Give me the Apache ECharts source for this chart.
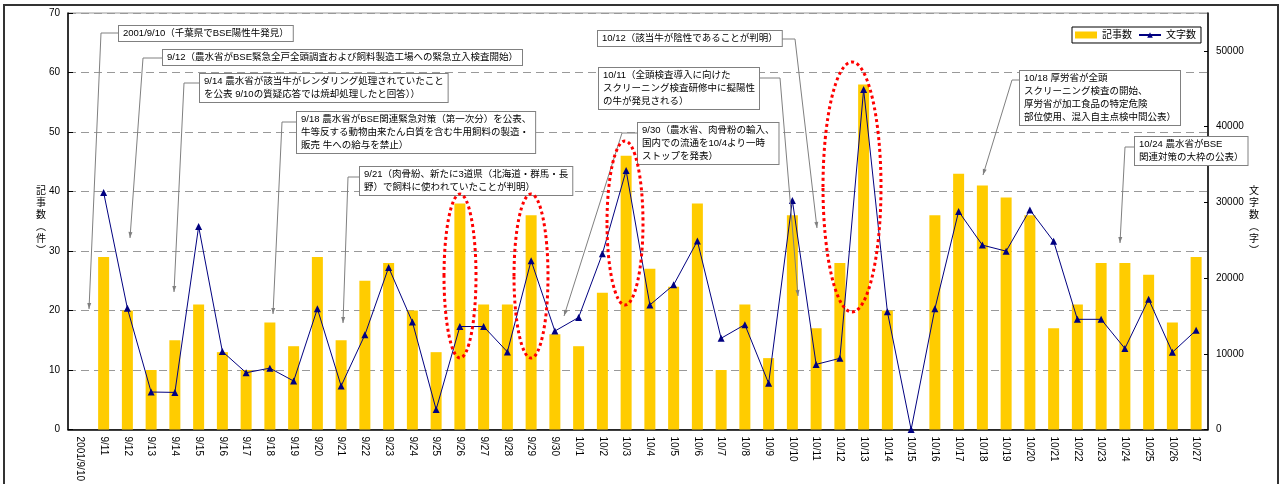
<!DOCTYPE html>
<html>
<head>
<meta charset="utf-8">
<script src="https://cdn.jsdelivr.net/npm/echarts/dist/echarts.min.js"></script>
<style>
  html, body { margin: 0; padding: 0; background: #fff; }
  #main { width: 1280px; height: 484px; }
</style>
</head>
<body>
<div id="main"></div>
<script>
// 日付
const days = [
  '2001/9/10', '9/11', '9/12', '9/13', '9/14', '9/15', '9/16', '9/17', '9/18', '9/19', '9/20',
  '9/21', '9/22', '9/23', '9/24', '9/25', '9/26', '9/27', '9/28', '9/29', '9/30',
  '10/1', '10/2', '10/3', '10/4', '10/5', '10/6', '10/7', '10/8', '10/9', '10/10',
  '10/11', '10/12', '10/13', '10/14', '10/15', '10/16', '10/17', '10/18', '10/19', '10/20',
  '10/21', '10/22', '10/23', '10/24', '10/25', '10/26', '10/27',
]
// 記事数（件）
const articleCount = [
  0, 29, 20, 10, 15, 21, 13, 10, 18, 14, 29,
  15, 25, 28, 20, 13, 38, 21, 21, 36, 16,
  14, 23, 46, 27, 24, 38, 10, 21, 12, 36,
  17, 28, 58, 20, 0, 36, 43, 41, 39, 36,
  17, 21, 28, 28, 26, 18, 29,
]
// 文字数（字）
const charCount = [
  null, 31300, 16000, 4950, 4900, 26800, 10300, 7500, 8100, 6400, 15950,
  5750, 12500, 21400, 14200, 2650, 13600, 13600, 10250, 22300, 13000,
  14800, 23200, 34200, 16450, 19100, 24900, 12050, 13850, 6100, 30250,
  8600, 9400, 44900, 15550, 0, 15950, 28800, 24350, 23550, 29000,
  24850, 14550, 14550, 10700, 17200, 10200, 13100,
]
const leftTicks = { min: 0, max: 70, interval: 10 }
const rightTicks = { min: 0, max: 55000, interval: 10000 }

// 注釈（テキスト、箱の左上、引出線）
const notes = [
  { text: '2001/9/10（千葉県でBSE陽性牛発見）', x: 119, y: 26, line: [[119, 33], [101, 33], [89, 309]] },
  { text: '9/12（農水省がBSE緊急全戸全頭調査および飼料製造工場への緊急立入検査開始）', x: 163, y: 50, line: [[163, 58], [143, 58], [130, 238]] },
  { text: '9/14 農水省が該当牛がレンダリング処理されていたこと\nを公表 9/10の質疑応答では焼却処理したと回答））', x: 200, y: 74, line: [[200, 83], [184, 83], [174, 292]] },
  { text: '9/18 農水省がBSE関連緊急対策（第一次分）を公表、\n牛等反する動物由来たん白質を含む牛用飼料の製造・\n販売 牛への給与を禁止）', x: 297, y: 112, line: [[297, 122], [282, 122], [273, 314]] },
  { text: '9/21（肉骨紛、新たに3道県（北海道・群馬・長\n野）で飼料に使われていたことが判明）', x: 360, y: 167, line: [[360, 177], [348, 177], [343, 323]] },
  { text: '10/12（該当牛が陰性であることが判明）', x: 598, y: 31, line: [[775, 39], [795, 39], [817, 228]] },
  { text: '10/11（全頭検査導入に向けた\nスクリーニング検査研修中に擬陽性\nの牛が発見される）', x: 599, y: 68, line: [[758, 78], [780, 78], [798, 296]] },
  { text: '9/30（農水省、肉骨粉の輸入、\n国内での流通を10/4より一時\nストップを発表）', x: 638, y: 123, line: [[638, 133], [622, 133], [564, 316]] },
  { text: '10/18 厚労省が全頭\nスクリーニング検査の開始、\n厚労省が加工食品の特定危険\n部位使用、混入自主点検中間公表）', x: 1020, y: 71, line: [[1020, 80], [1012, 80], [983, 175]] },
  { text: '10/24 農水省がBSE\n関連対策の大枠の公表）', x: 1135, y: 137, line: [[1135, 147], [1125, 147], [1120, 243]] },
]
// 赤い点線の楕円
const rings = [
  { cx: 460, cy: 276, rx: 16, ry: 82 },
  { cx: 531, cy: 276, rx: 17, ry: 82 },
  { cx: 625, cy: 223, rx: 18, ry: 82 },
  { cx: 852, cy: 187, rx: 29, ry: 125 },
]

const FONT = '"Liberation Sans", Arial, "Noto Sans CJK JP", sans-serif'

// 引出線 + 矢印
function leader(pts) {
  const [a, b] = [pts[pts.length - 2], pts[pts.length - 1]]
  const dx = b[0] - a[0], dy = b[1] - a[1]
  const len = Math.hypot(dx, dy)
  const ux = dx / len, uy = dy / len
  const bx = b[0] - ux * 6, by = b[1] - uy * 6
  return [
    { type: 'polyline', z: 20, shape: { points: pts }, style: { stroke: '#808080', lineWidth: 1, fill: null } },
    {
      type: 'polygon', z: 20,
      shape: { points: [b, [bx - uy * 2, by + ux * 2], [bx + uy * 2, by - ux * 2]] },
      style: { fill: '#808080' },
    },
  ]
}

const graphics = [
  {
    type: 'rect', z: 30, silent: true,
    shape: { x: 4, y: 5, width: 1274, height: 520 },
    style: { fill: null, stroke: '#333', lineWidth: 2 },
  },
]
notes.forEach((n) => {
  graphics.push(...leader(n.line))
  graphics.push({
    type: 'text', z: 21, x: n.x, y: n.y,
    style: {
      text: n.text,
      font: '9.5px ' + FONT,
      fill: '#000',
      lineHeight: 13,
      backgroundColor: '#fff',
      borderColor: '#808080',
      borderWidth: 1,
      padding: [1, 4, 1, 4],
    },
  })
})
rings.forEach((r) => {
  graphics.push({
    type: 'ellipse', z: 25,
    shape: r,
    style: { fill: null, stroke: '#FF0000', lineWidth: 3, lineDash: [3, 3] },
  })
})

const myEchart = echarts.init(document.querySelector('#main'))
myEchart.setOption({
  animation: false,
  backgroundColor: '#fff',
  textStyle: { fontFamily: FONT },
  grid: {
    left: 68,
    right: 72,
    top: 13,
    bottom: 52,
    show: true,
    borderColor: '#999',
    borderWidth: 1,
  },
  legend: {
    left: 1072,
    top: 27,
    padding: [3, 5, 3, 3],
    itemGap: 6,
    itemWidth: 22,
    itemHeight: 7,
    borderColor: '#000',
    borderWidth: 1,
    backgroundColor: '#fff',
    textStyle: { fontSize: 10, color: '#000', fontFamily: FONT },
    data: [
      { name: '記事数', icon: 'rect' },
      { name: '文字数' },
    ],
  },
  xAxis: {
    type: 'category',
    data: days,
    axisLine: { lineStyle: { color: '#000', width: 1.5 } },
    axisTick: { inside: true, length: 4, lineStyle: { color: '#000' } },
    axisLabel: {
      interval: 0,
      rotate: -90,
      fontSize: 10,
      color: '#000',
      margin: 7,
    },
  },
  yAxis: [
    {
      type: 'value',
      ...leftTicks,
      name: '記\n事\n数\n︵\n件\n︶',
      nameLocation: 'middle',
      nameRotate: 0,
      nameGap: 22,
      nameMoveOverlap: false,
      nameTextStyle: { fontSize: 10, lineHeight: 12, color: '#000', fontFamily: FONT },
      axisLine: { show: true, lineStyle: { color: '#000', width: 1.5 } },
      axisTick: { show: true, inside: true, length: 5, lineStyle: { color: '#000' } },
      axisLabel: { fontSize: 10, color: '#000', margin: 8 },
      splitLine: { lineStyle: { color: '#999', type: [8, 5] } },
    },
    {
      type: 'value',
      ...rightTicks,
      name: '文\n字\n数\n︵\n字\n︶',
      nameLocation: 'middle',
      nameRotate: 0,
      nameGap: 41,
      nameMoveOverlap: false,
      nameTextStyle: { fontSize: 10, lineHeight: 12, color: '#000', fontFamily: FONT },
      axisLine: { show: true, lineStyle: { color: '#000', width: 1.5 } },
      axisTick: { show: true, inside: true, length: 4, lineStyle: { color: '#000' } },
      axisLabel: {
        fontSize: 10,
        color: '#000',
        margin: 8,
        showMaxLabel: false,
        formatter: (v) => String(v),
      },
      splitLine: { show: false },
    },
  ],
  series: [
    {
      name: '記事数',
      type: 'bar',
      yAxisIndex: 0,
      barWidth: 11,
      data: articleCount,
      itemStyle: { color: '#FFCC00' },
    },
    {
      name: '文字数',
      type: 'line',
      yAxisIndex: 1,
      data: charCount,
      color: '#000080',
      lineStyle: { width: 1, color: '#000080' },
      symbol: 'triangle',
      symbolSize: 7,
      showAllSymbol: true,
      itemStyle: { color: '#000080' },
    },
  ],
  graphic: graphics,
})
</script>
</body>
</html>
